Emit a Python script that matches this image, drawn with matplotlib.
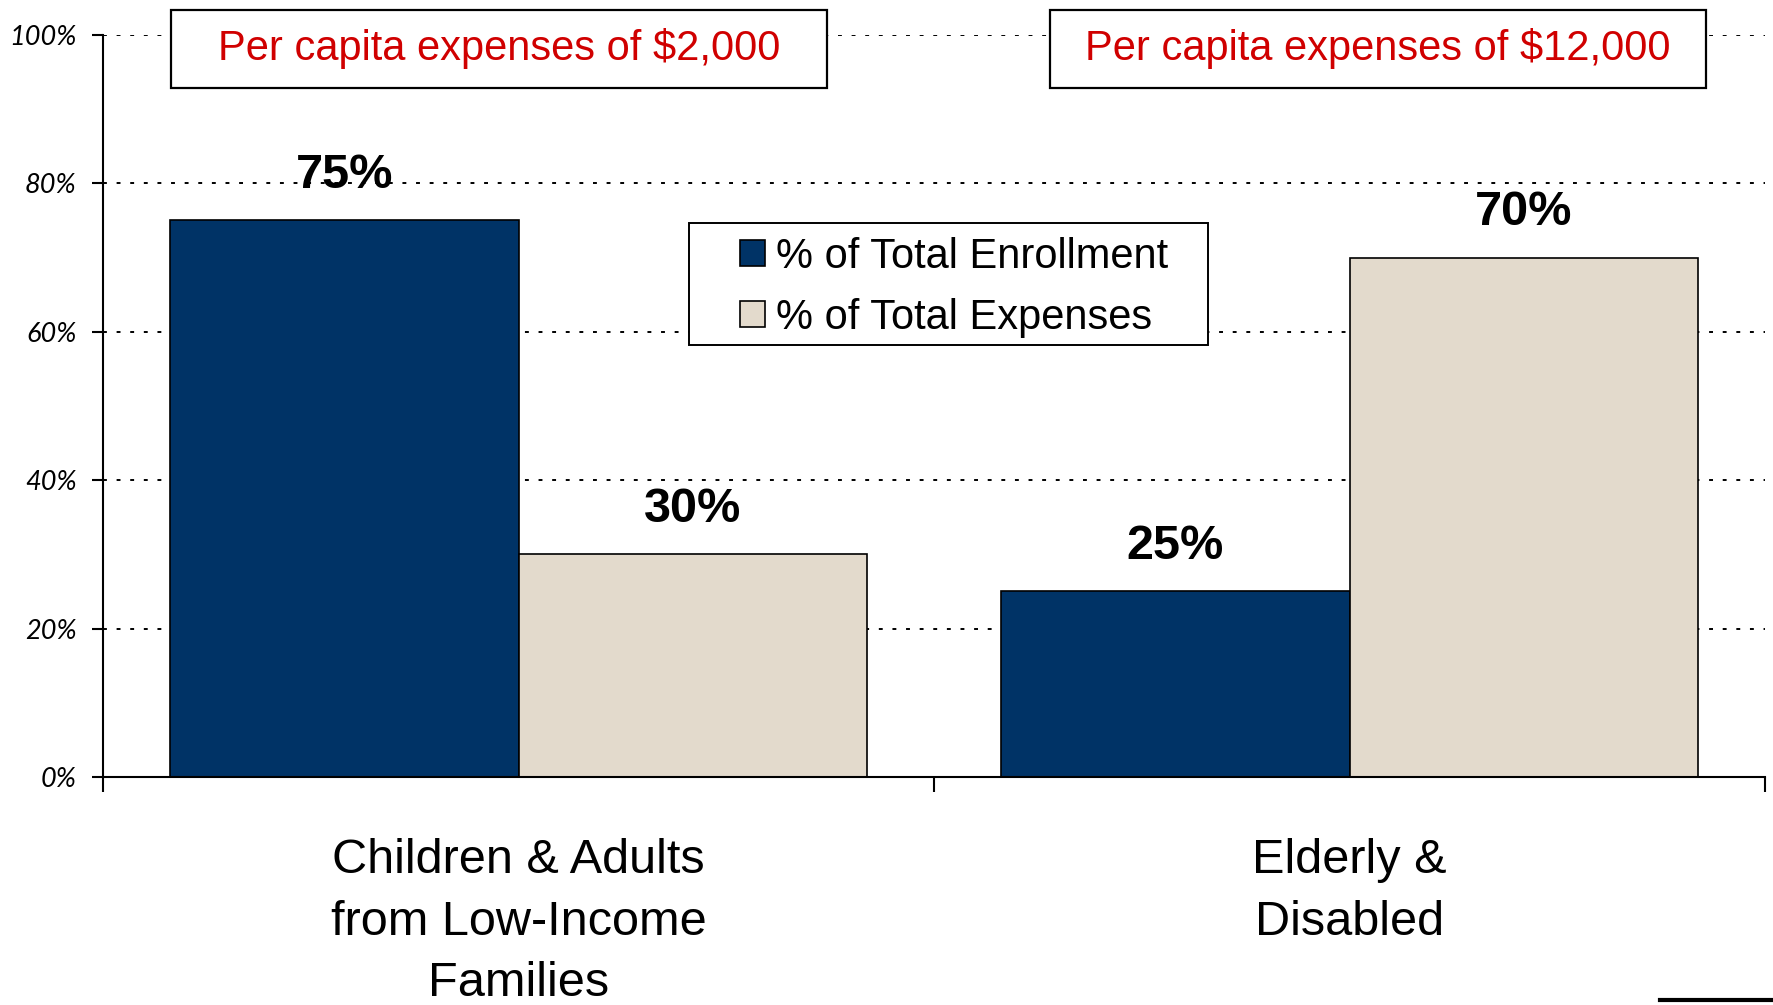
import matplotlib.pyplot as plt
from matplotlib.patches import Rectangle
from matplotlib.lines import Line2D
import numpy as np


# data
categories = ['Children & Adults\nfrom Low-Income\nFamilies', 'Elderly &\nDisabled']
enrollment = [75, 25]
expenses = [30, 70]
series_names = ['% of Total Enrollment', '% of Total Expenses']
box_texts = ['Per capita expenses of $2,000', 'Per capita expenses of $12,000']
y_ticks = [0, 20, 40, 60, 80, 100]

navy = '#003366'
beige = '#E3DACC'
red = '#D00000'
narrow = ['Liberation Sans Narrow', 'Liberation Sans', 'DejaVu Sans']


def main():

    fig = plt.figure(figsize=(17.73, 10.05), dpi=100)
    ax = fig.add_axes([0.0581, 0.2269, 0.9374, 0.7383])

    x = np.arange(len(categories))
    w = 0.419

    #grid first so bars sit on top
    for t in y_ticks[1:]:
        ax.axhline(t, color='black', linewidth=1.4, linestyle=(0, (2, 5)), zorder=0)

    b1 = ax.bar(x - w / 2, enrollment, w, color=navy, edgecolor='black', linewidth=1.2,
                label=series_names[0], zorder=2)
    b2 = ax.bar(x + w / 2, expenses, w, color=beige, edgecolor='black', linewidth=1.2,
                label=series_names[1], zorder=2)

    for bars, vals in [(b1, enrollment), (b2, expenses)]:
        for rect, v in zip(bars, vals):
            ax.annotate(f'{v}%', (rect.get_x() + rect.get_width() / 2, v),
                        xytext=(0, 16), textcoords='offset points',
                        ha='center', va='bottom', fontsize=35, family=narrow,
                        fontweight='bold')

    ax.set_xlim(-0.5, 1.5)
    ax.set_ylim(0, 100)

    ax.set_yticks(y_ticks)
    ax.set_yticklabels([f'{t}%' for t in y_ticks], fontsize=19.5, style='italic',
                       family=['Lato', 'DejaVu Sans'], color='black')
    ax.tick_params(axis='y', direction='out', length=8, width=1.5, pad=11)

    ax.set_xticks(x)
    ax.set_xticklabels(categories, fontsize=35, family=narrow, linespacing=1.47)
    ax.tick_params(axis='x', which='major', length=0, pad=44)
    ax.set_xticks([-0.5, 0.5, 1.5], minor=True)
    ax.tick_params(axis='x', which='minor', direction='out', length=11, width=1.5)

    for s in ['top', 'right']:
        ax.spines[s].set_visible(False)
    for s in ['left', 'bottom']:
        ax.spines[s].set_linewidth(1.5)

    #red text boxes above each group
    for x0, txt in zip([0.0409, 0.5698], box_texts):
        ax.add_patch(Rectangle((x0, 0.9286), 0.3947, 0.1051, transform=ax.transAxes,
                               facecolor='white', edgecolor='black', linewidth=1.6,
                               clip_on=False, zorder=3))
        ax.text(x0 + 0.3947 / 2, 0.9286 + 0.1051 / 2, txt, transform=ax.transAxes,
                ha='center', va='center', color=red, fontsize=30, family=narrow, zorder=4)

    #legend box is wider than the legend itself, so frame drawn separately
    ax.add_patch(Rectangle((0.3526, 0.582), 0.3124, 0.1646, transform=ax.transAxes,
                           facecolor='white', edgecolor='black', linewidth=1.4, zorder=5))
    leg = ax.legend(loc='center left', bbox_to_anchor=(0.3835, 0.66), frameon=False,
                    prop={'family': narrow, 'size': 30},
                    handlelength=0.6, handleheight=0.6, handletextpad=0.25,
                    borderpad=0, labelspacing=0.5, borderaxespad=0)
    leg.set_zorder(6)

    fig.add_artist(Line2D([0.936, 1.0], [0.0045, 0.0045], color='black', linewidth=3))

    plt.savefig('out.png', dpi=100)


if __name__ == "__main__":
    main()
